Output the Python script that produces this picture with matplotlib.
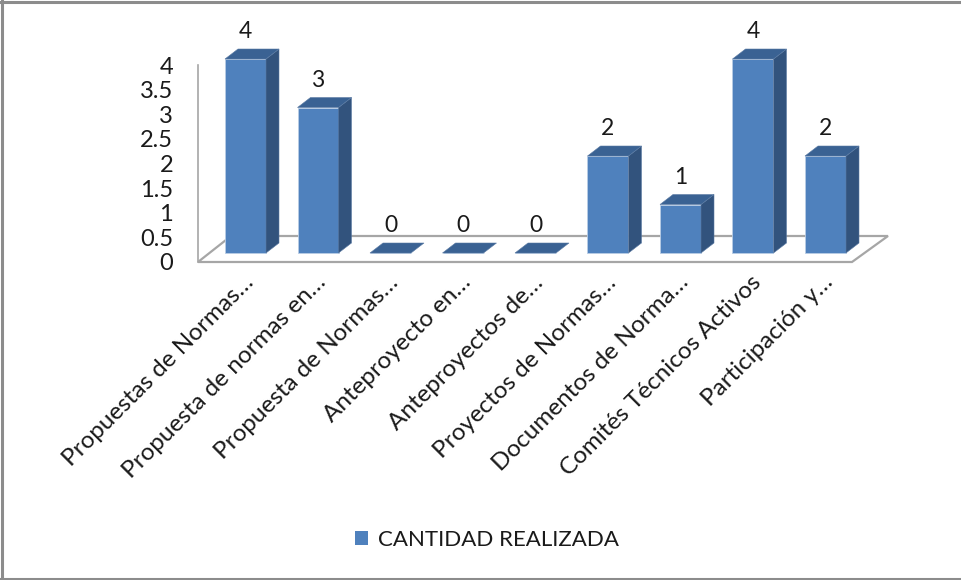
import matplotlib
matplotlib.use("Agg")
import matplotlib.pyplot as plt
import matplotlib.transforms as mtransforms
from matplotlib.patches import Polygon
from matplotlib.ticker import FuncFormatter
from matplotlib.lines import Line2D

plt.rcParams['font.family'] = ['Lato', 'DejaVu Sans']

categories = [
    "Propuestas de Normas…",
    "Propuesta de normas en…",
    "Propuesta de Normas…",
    "Anteproyecto en…",
    "Anteproyectos de…",
    "Proyectos de Normas…",
    "Documentos de Norma…",
    "Comités Técnicos Activos",
    "Participación y…",
]
values = [4, 3, 0, 0, 0, 2, 1, 4, 2]
series_name = "CANTIDAD REALIZADA"
tick_values = [0, 0.5, 1, 1.5, 2, 2.5, 3, 3.5, 4]

W, H, DPI = 961, 580, 100
fig = plt.figure(figsize=(W / DPI, H / DPI), dpi=DPI)

# pixel geometry of plotting region (style)
PX_X0 = 245.5      # pixel x of first category
PX_DX = 72.5       # pixels per category
PY_0 = 253.0       # pixel y of value 0 (bar bottom)
PY_DY = 48.5       # pixels per unit
ax_left_px, ax_right_px = 198, 888
ax_top_px, ax_bot_px = 50, 262

ax = fig.add_axes([ax_left_px / W, 1 - ax_bot_px / H,
                   (ax_right_px - ax_left_px) / W, (ax_bot_px - ax_top_px) / H])
ax.set_xlim((ax_left_px - PX_X0) / PX_DX, (ax_right_px - PX_X0) / PX_DX)
ax.set_ylim(-(ax_bot_px - PY_0) / PY_DY, (PY_0 - ax_top_px) / PY_DY)

def px2x(px):
    return (px - PX_X0) / PX_DX

def py2y(py):
    return (PY_0 - py) / PY_DY

# floor
floor = Polygon([(px2x(198), py2y(262)), (px2x(231), py2y(236)),
                 (px2x(888), py2y(236)), (px2x(852), py2y(262))],
                closed=True, facecolor='white', edgecolor='#a6a6a6', lw=1.6,
                clip_on=False, zorder=1)
ax.add_patch(floor)
# left wall line
ax.add_line(Line2D([px2x(198), px2x(198)], [py2y(262), py2y(65)],
                   color='#a6a6a6', lw=1.2, clip_on=False, zorder=1))

front = '#4f81bd'
side = '#32537d'
top = '#3a6293'
bw = 41 / PX_DX
ddx = 13 / PX_DX
ddy = 10 / PY_DY

xs = list(range(len(categories)))
bars = ax.bar(xs, values, width=bw, color=front, edgecolor='#b9cde5',
              linewidth=0.6, zorder=3, label=series_name)
for b, v in zip(bars, values):
    x0 = b.get_x()
    x1 = x0 + b.get_width()
    h = b.get_height()
    if h > 0:
        ax.add_patch(Polygon([(x1, 0), (x1 + ddx, ddy), (x1 + ddx, h + ddy), (x1, h)],
                             closed=True, facecolor=side, edgecolor='#5a7aa3',
                             lw=0.4, zorder=3, clip_on=False))
    ax.add_patch(Polygon([(x0, h), (x0 + ddx, h + ddy), (x1 + ddx, h + ddy), (x1, h)],
                         closed=True, facecolor=top, edgecolor='#5a7aa3',
                         lw=0.4, zorder=4, clip_on=False))
    ax.annotate(f"{v}", (b.get_x() + b.get_width() / 2, h), xytext=(0, 15),
                textcoords='offset points', ha='center', va='baseline',
                fontsize=16.5, color='#1a1a1a', zorder=5, annotation_clip=False)

for s in ax.spines.values():
    s.set_visible(False)
ax.set_yticks([])
ax.set_xticks(xs)
ax.set_xticklabels(categories, rotation=45, ha='right', va='top',
                   rotation_mode='anchor', fontsize=17.5, color='#1a1a1a')
ax.tick_params(axis='x', length=0, pad=7)
shift = mtransforms.ScaledTranslation(-3 / DPI, 0, fig.dpi_scale_trans)
for lbl in ax.get_xticklabels():
    lbl.set_transform(lbl.get_transform() + shift)

# value axis labels (on the wall)
y_bot = py2y(262)
y_top = py2y(65)
scale = (y_top - y_bot) / 4.0
sec = ax.secondary_yaxis('left', functions=(lambda y: (y - y_bot) / scale,
                                            lambda t: y_bot + t * scale))
sec.set_yticks(tick_values)
sec.yaxis.set_major_formatter(FuncFormatter(lambda v, p: f"{v:g}"))
sec.tick_params(length=0, pad=18, labelsize=17, labelcolor='#1a1a1a')
sec.spines['left'].set_visible(False)

# legend
leg = fig.legend(handles=[plt.Rectangle((0, 0), 1, 1, facecolor=front)],
                 labels=[series_name], loc='center', bbox_to_anchor=(487 / W, 1 - 540 / H),
                 frameon=False, fontsize=16, handlelength=0.55, handleheight=0.55,
                 handletextpad=0.45)
for t in leg.get_texts():
    t.set_color('#1a1a1a')

# border
fig.add_artist(Line2D([2 / W, 2 / W], [0, 1], color='#8c8c8c', lw=2.2,
                      transform=fig.transFigure))
fig.add_artist(Line2D([0, 1], [1 - 2 / H, 1 - 2 / H], color='#8c8c8c', lw=2.2,
                      transform=fig.transFigure))
fig.add_artist(Line2D([0, 1], [1 - 578.5 / H, 1 - 578.5 / H], color='#8c8c8c', lw=2.2,
                      transform=fig.transFigure))

fig.savefig("out.png", dpi=DPI)
